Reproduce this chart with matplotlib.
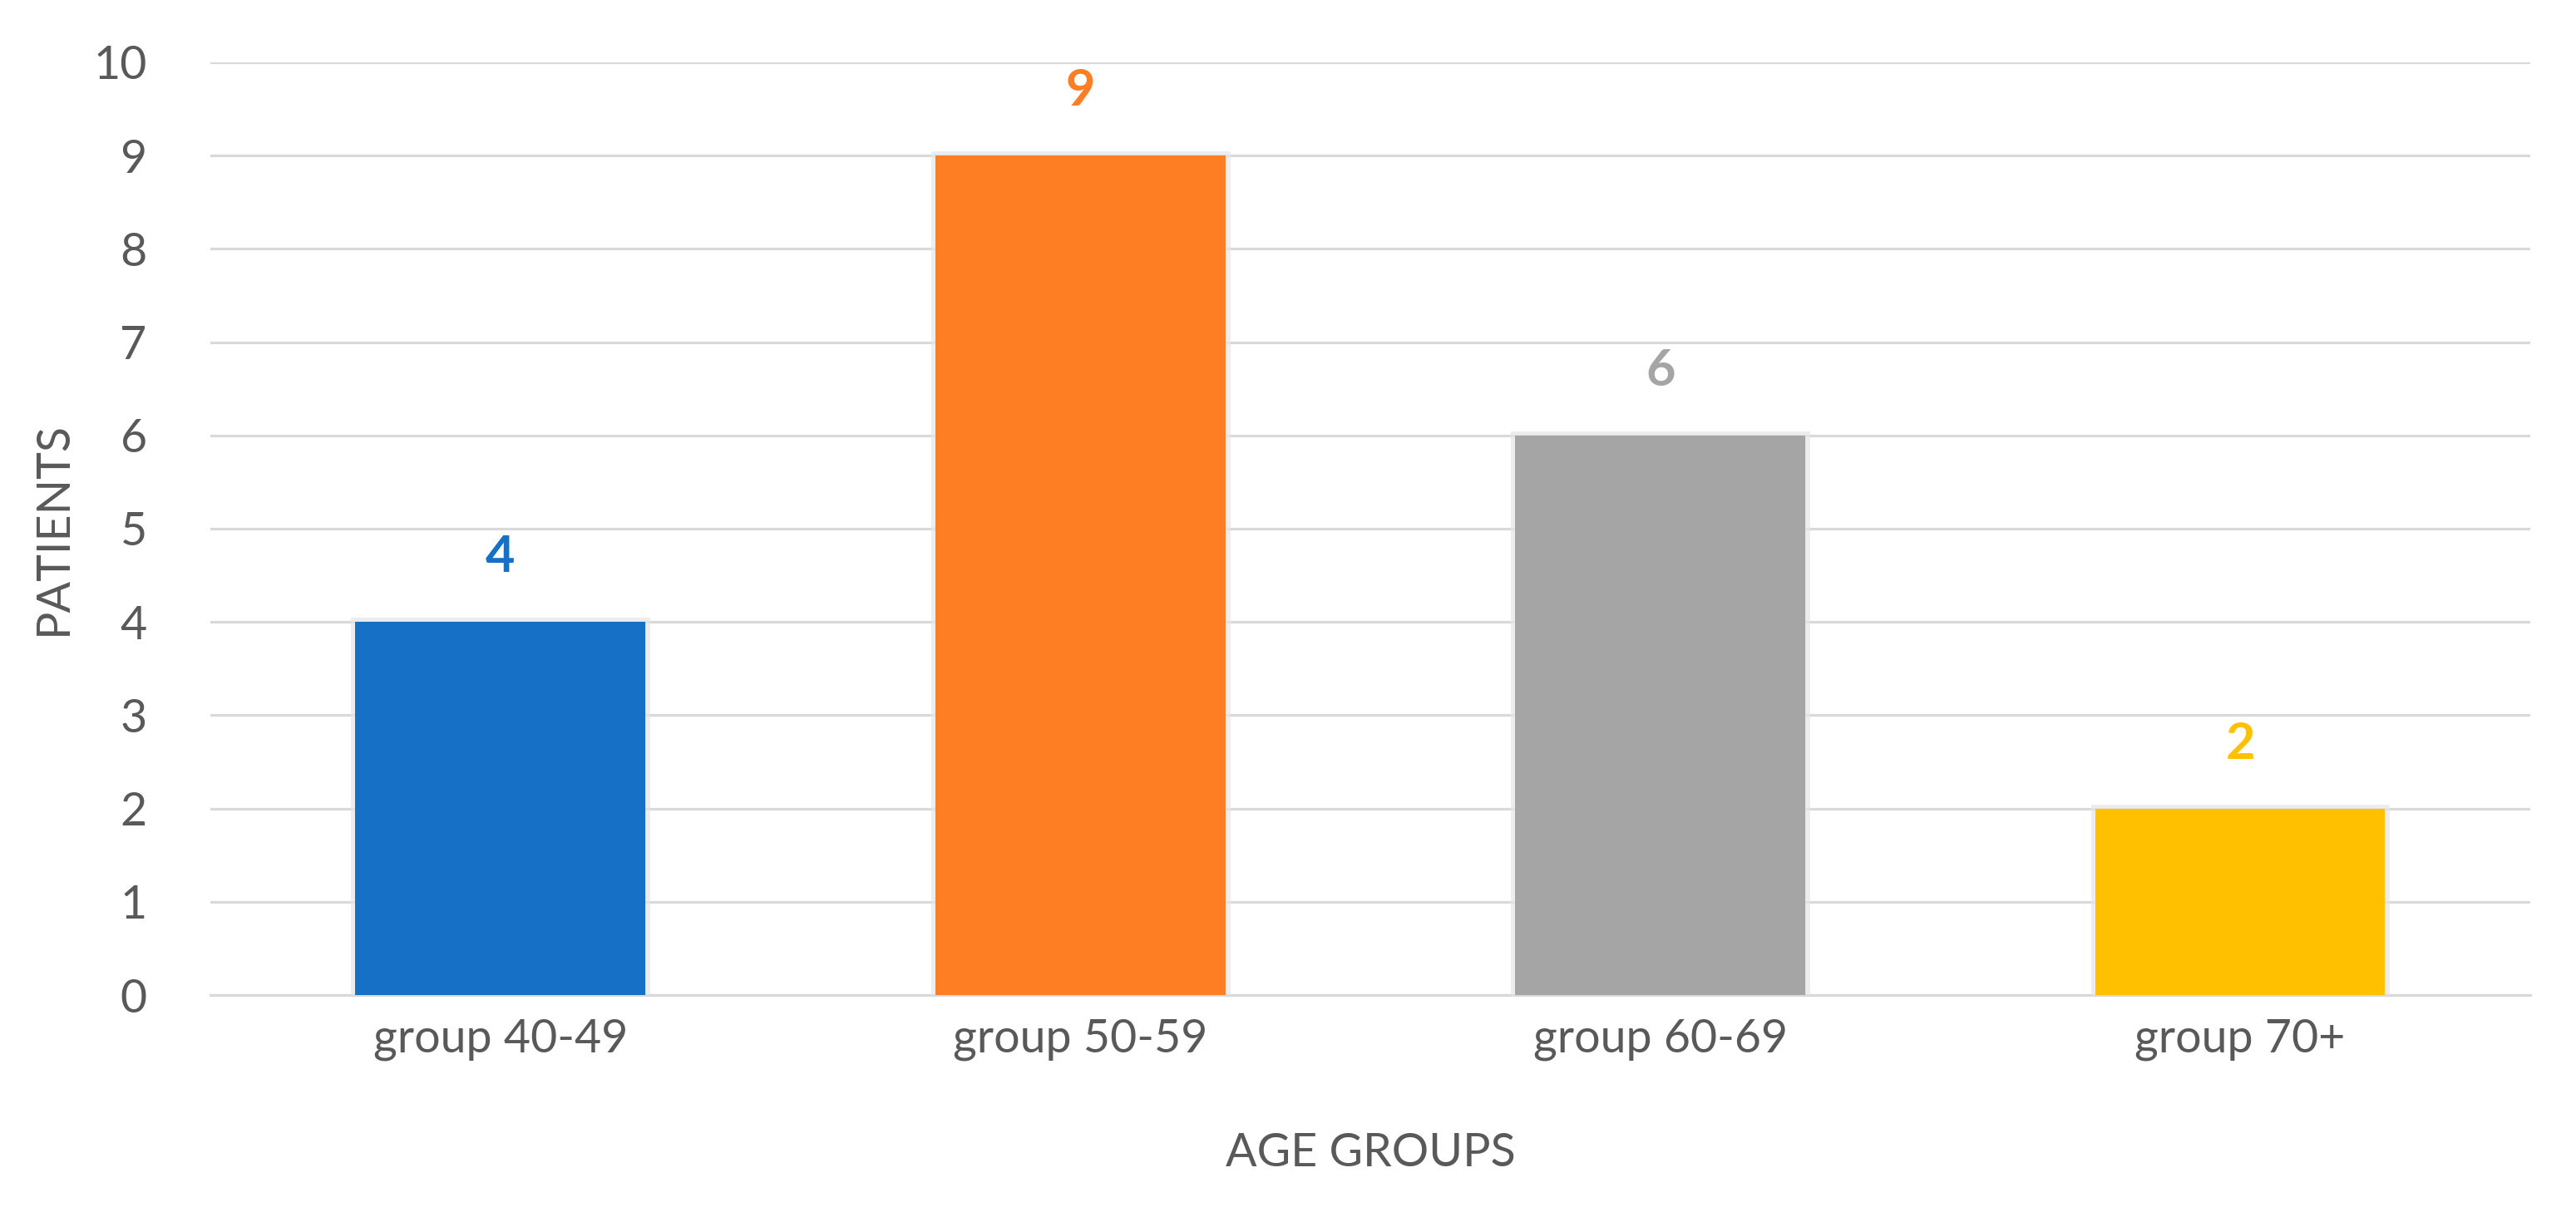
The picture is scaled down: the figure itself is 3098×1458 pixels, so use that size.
import matplotlib.pyplot as plt
import matplotlib.patheffects as pe
import numpy as np

# data
groups = ["group 40-49", "group 50-59", "group 60-69", "group 70+"]
patients = [4, 9, 6, 2]
colors = ["#1570C6", "#FD7E23", "#A5A5A5", "#FFC000"]

plt.rcParams['font.family'] = ['Lato', 'DejaVu Sans']
text_col = "#595959"

fig = plt.figure(figsize=(30.98, 14.58), dpi=100)
ax = fig.add_axes([0.0817, 0.179, 0.9005, 0.7696])

x = np.arange(len(groups))
bars = ax.bar(x, patients, width=0.5, color=colors, zorder=3)
# soft glow around the bars, like the office shadow
for b in bars:
    b.set_path_effects([pe.withStroke(linewidth=8, foreground="#E6E6E6", alpha=0.7), pe.Normal()])

# value labels above bars
for xi, v, c in zip(x, patients, colors):
    ax.annotate(str(v), (xi, v), xytext=(0, 36), textcoords="offset points",
                ha="center", va="bottom", fontsize=44, fontweight="bold", color=c)

ax.set_xlim(-0.5, len(groups) - 0.5)
ax.set_ylim(0, 10)
ax.set_yticks(range(0, 11))
ax.set_xticks(x)
ax.set_xticklabels(groups)

ax.yaxis.grid(True, color="#D9D9D9", linewidth=2.3, zorder=0)
ax.set_axisbelow(True)
for s in ["top", "right", "left"]:
    ax.spines[s].set_visible(False)
ax.spines["bottom"].set_color("#D9D9D9")
ax.spines["bottom"].set_linewidth(2.3)

ax.tick_params(axis="both", length=0, labelsize=40, colors=text_col)
ax.tick_params(axis="y", pad=55)
ax.tick_params(axis="x", pad=20)

ax.set_xlabel("AGE GROUPS", fontsize=40, color=text_col, labelpad=62)
ax.set_ylabel("PATIENTS", fontsize=40, color=text_col, labelpad=16)

plt.savefig("out.png", dpi=100, facecolor="white")
